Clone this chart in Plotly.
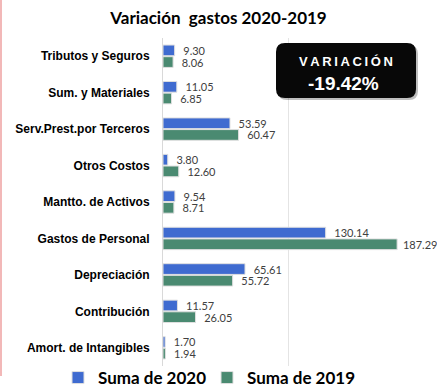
import plotly.graph_objects as go

# Expense categories, top to bottom
categorias = [
    "Tributos y Seguros",
    "Sum. y Materiales",
    "Serv.Prest.por Terceros",
    "Otros Costos",
    "Mantto. de Activos",
    "Gastos de Personal",
    "Depreciación",
    "Contribución",
    "Amort. de Intangibles",
]
suma_2020 = [9.30, 11.05, 53.59, 3.80, 9.54, 130.14, 65.61, 11.57, 1.70]
suma_2019 = [8.06, 6.85, 60.47, 12.60, 8.71, 187.29, 55.72, 26.05, 1.94]
variacion = "-19.42%"

W, H = 437, 387
ML, MR, MT, MB = 163, 24, 38, 21
PW, PH = W - ML - MR, H - MT - MB


def px_x(x):
    return (x - ML) / PW


def px_y(y):
    return 1 - (y - MT) / PH


label_font = dict(family="Lato, Carlito, Calibri, sans-serif", size=11, color="#404040")


def templates(values):
    # long bars near the right edge get their label tucked closer
    return [("\u00a0" if v > 150 else "\u00a0\u00a0") + "%{x:.2f}" for v in values]


fig = go.Figure()
fig.add_trace(go.Bar(
    y=categorias, x=suma_2020, orientation="h", name="Suma de 2020",
    marker=dict(color="#3F6BD0", line=dict(color="#e0e0e0", width=1)),
    texttemplate=templates(suma_2020), textposition="outside",
    textfont=label_font, cliponaxis=False, constraintext="none", legend="legend",
))
fig.add_trace(go.Bar(
    y=categorias, x=suma_2019, orientation="h", name="Suma de 2019",
    marker=dict(color="#4A8A71", line=dict(color="#e0e0e0", width=1)),
    texttemplate=templates(suma_2019), textposition="outside",
    textfont=label_font, cliponaxis=False, constraintext="none", legend="legend2",
))


def rounded_rect(x0, y0, x1, y1, r):
    # pixel coords -> paper coords path with rounded corners
    rx, ry = r / PW, r / PH
    X0, X1 = px_x(x0), px_x(x1)
    Yt, Yb = px_y(y0), px_y(y1)
    return (f"M {X0+rx},{Yt} L {X1-rx},{Yt} Q {X1},{Yt} {X1},{Yt-ry} "
            f"L {X1},{Yb+ry} Q {X1},{Yb} {X1-rx},{Yb} L {X0+rx},{Yb} "
            f"Q {X0},{Yb} {X0},{Yb+ry} L {X0},{Yt-ry} Q {X0},{Yt} {X0+rx},{Yt} Z")


shapes = [
    # drop shadow of the variation box
    dict(type="path", xref="paper", yref="paper",
         path=rounded_rect(278, 45, 418, 100, 9),
         fillcolor="rgba(0,0,0,0.25)", line=dict(width=0)),
    dict(type="path", xref="paper", yref="paper",
         path=rounded_rect(276, 43, 416, 98, 9),
         fillcolor="#080808", line=dict(width=0)),
    # left frame edge
    dict(type="line", xref="paper", yref="paper",
         x0=px_x(1), x1=px_x(1), y0=px_y(0), y1=px_y(376),
         line=dict(color="#f2b8b8", width=2)),
]

annotations = [
    dict(text="V\u2009A\u2009R\u2009I\u2009A\u2009C\u2009I\u2009Ó\u2009N", xref="paper", yref="paper",
         x=px_x(346), y=px_y(62), xanchor="center", yanchor="middle", showarrow=False,
         font=dict(family="Liberation Sans, Arial, sans-serif", size=13, color="white", weight="bold")),
    dict(text=variacion, xref="paper", yref="paper",
         x=px_x(343), y=px_y(83), xanchor="center", yanchor="middle", showarrow=False,
         font=dict(family="Liberation Sans, Arial, sans-serif", size=19, color="white", weight="bold")),
]

legend_font = dict(family="Lato, Carlito, Calibri, sans-serif", size=17, color="black", weight="bold")

fig.update_layout(
    width=W, height=H,
    margin=dict(l=ML, r=MR, t=MT, b=MB, autoexpand=False),
    paper_bgcolor="white", plot_bgcolor="white",
    barmode="group", bargap=0.36, bargroupgap=0.08,
    title=dict(text="Variación  gastos 2020-2019", x=0.5, xref="container",
               y=1 - 18 / H, yref="container", xanchor="center", yanchor="middle",
               font=dict(family="Lato, Carlito, Calibri, sans-serif", size=17, color="black", weight="bold")),
    xaxis=dict(range=[0, 200], dtick=100, showticklabels=False, showgrid=True,
               gridcolor="#e4e4e4", gridwidth=1, zeroline=False, showline=False, fixedrange=True),
    yaxis=dict(autorange="reversed", showline=True, linecolor="#d9d9d9", linewidth=1,
               ticks="", ticklabelstandoff=10,
               tickfont=dict(family="Liberation Sans Narrow, Arial Narrow, sans-serif", size=12,
                             color="black", weight="bold")),
    legend=dict(orientation="h", xref="container", yref="container",
                x=58 / W, y=1 - 378 / H, xanchor="left", yanchor="middle",
                font=legend_font, bgcolor="rgba(0,0,0,0)"),
    legend2=dict(orientation="h", xref="container", yref="container",
                 x=207 / W, y=1 - 378 / H, xanchor="left", yanchor="middle",
                 font=legend_font, bgcolor="rgba(0,0,0,0)"),
    shapes=shapes, annotations=annotations,
    showlegend=True,
)

fig.write_html("out.html")
